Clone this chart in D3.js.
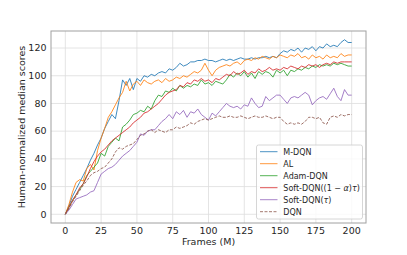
<!DOCTYPE html>
<html>
<head>
<meta charset="utf-8">
<script src="https://cdnjs.cloudflare.com/ajax/libs/d3/7.8.5/d3.min.js"></script>
<style>
  html, body { margin: 0; padding: 0; background: #fff; }
  svg text { font-family: "DejaVu Sans", sans-serif; fill: #262626; }
</style>
</head>
<body>
<svg id="chart" width="407" height="255"></svg>
<script>
// frames (M), one sample every 2.5M
var frames = d3.range(0, 202.5, 2.5);

var mdqn = [0,6,13,18,23,28,33,39,44,50,55,62,67,72,69,82,97,93,98,90,98,96,100,99,101,100,102,103,102,105,104,106,109,107,108,110,110,111,111,112,111,111,110,111,112,111,112,111,112,113,112,112,113,112,113,113,114,113,114,113,116,118,117,119,118,120,117,120,119,121,118,121,120,123,121,122,121,124,126,124,124];
var al = [0,7,16,23,25,24,33,36,32,46,55,62,70,74,79,84,88,96,89,94,96,93,97,95,94,96,97,95,98,96,97,99,98,100,99,101,103,102,104,109,104,100,104,106,107,108,107,109,110,108,111,112,111,113,112,114,113,112,114,113,115,114,113,115,114,116,113,114,112,115,113,114,112,115,113,114,113,116,114,115,115];
var adam = [0,5,10,14,18,22,28,31,34,37,44,42,49,52,55,53,63,65,68,72,73,75,74,78,76,82,86,85,89,88,91,89,93,91,93,92,94,93,97,94,95,93,96,95,94,97,101,99,102,100,103,99,102,98,103,101,103,102,99,104,102,104,100,104,103,105,104,106,105,107,106,108,107,108,107,109,108,109,108,107,107];
var softA = [0,5,10,14,19,22,27,33,38,42,45,47,50,53,55,57,59,61,63,66,68,70,73,74,76,78,80,83,86,88,89,90,93,92,95,94,97,96,98,96,97,95,98,97,99,101,100,103,101,102,104,101,103,102,105,103,104,106,104,105,104,106,105,107,106,105,107,106,108,107,108,106,108,109,108,110,109,110,110,110,110];
var softT = [0,3,7,11,12,13,14,16,17,23,29,31,33,34,36,39,42,44,46,49,52,58,57,60,61,61,64,67,69,72,69,74,72,75,70,74,73,76,72,70,68,73,71,74,77,80,78,77,78,76,79,78,84,80,77,78,85,82,84,86,86,83,80,84,85,84,86,88,86,79,82,84,85,83,87,91,85,82,90,86,86];
var dqn = [0,4,9,13,17,21,24,28,30,31,33,34,37,40,45,48,47,49,50,51,54,57,58,60,61,59,61,60,59,61,61,63,62,63,64,66,65,67,68,69,68,69,70,71,70,70,71,70,70,71,70,69,70,71,70,70,71,70,69,70,70,67,65,66,65,66,65,67,70,70,69,70,66,65,70,71,70,72,71,72,72];

var names = ["M-DQN", "AL", "Adam-DQN", "Soft-DQN((1 \u2212 \u03b1)\u03c4)", "Soft-DQN(\u03c4)", "DQN"];
var colors = ["#1f77b4", "#ff7f0e", "#2ca02c", "#d62728", "#9467bd", "#8c564b"];
var series = [mdqn, al, adam, softA, softT, dqn];
var xTicks = [0, 25, 50, 75, 100, 125, 150, 175, 200];
var yTicks = [0, 20, 40, 60, 80, 100, 120];

(function() {
  var svg = d3.select("#chart");
  var pLeft = 51, pRight = 366, pTop = 31, pBottom = 223;

  var x = d3.scaleLinear().domain([-10, 210]).range([pLeft, pRight]);
  var y = d3.scaleLinear().domain([-6.3, 132.3]).range([pBottom, pTop]);

  // grid
  svg.append("g").selectAll("line").data(xTicks).enter().append("line")
    .attr("x1", d => x(d)).attr("x2", d => x(d)).attr("y1", pTop).attr("y2", pBottom)
    .attr("stroke", "#dddddd").attr("stroke-width", 0.8);
  svg.append("g").selectAll("line").data(yTicks).enter().append("line")
    .attr("x1", pLeft).attr("x2", pRight).attr("y1", d => y(d)).attr("y2", d => y(d))
    .attr("stroke", "#dddddd").attr("stroke-width", 0.8);

  // lines
  var line = d3.line().x((d, i) => x(frames[i])).y(d => y(d));
  series.forEach(function(s, k) {
    svg.append("path").datum(s)
      .attr("d", line)
      .attr("fill", "none")
      .attr("stroke", colors[k])
      .attr("stroke-opacity", 0.85)
      .attr("stroke-width", 1)
      .attr("stroke-dasharray", k == 5 ? "3,1.5" : null);
  });

  // frame
  svg.append("rect").attr("x", pLeft).attr("y", pTop)
    .attr("width", pRight - pLeft).attr("height", pBottom - pTop)
    .attr("fill", "none").attr("stroke", "#a0a0a0").attr("stroke-width", 1);

  // tick labels
  svg.append("g").selectAll("text").data(xTicks).enter().append("text")
    .attr("x", d => x(d)).attr("y", 234)
    .attr("text-anchor", "middle").attr("font-size", 9.5)
    .text(d => d);
  svg.append("g").selectAll("text").data(yTicks).enter().append("text")
    .attr("x", 46.5).attr("y", d => y(d)).attr("dy", "0.35em")
    .attr("text-anchor", "end").attr("font-size", 9.5)
    .text(d => d);

  // axis labels
  svg.append("text").attr("x", (pLeft + pRight) / 2).attr("y", 245)
    .attr("text-anchor", "middle").attr("font-size", 9.5).text("Frames (M)");
  svg.append("text").attr("transform", "translate(25," + ((pTop + pBottom) / 2) + ") rotate(-90)")
    .attr("text-anchor", "middle").attr("font-size", 9.5).text("Human-normalized median scores");

  // legend
  var lg = svg.append("g");
  lg.append("rect").attr("x", 256.5).attr("y", 145).attr("width", 106).attr("height", 74)
    .attr("rx", 2).attr("fill", "#fff").attr("fill-opacity", 0.8)
    .attr("stroke", "#cccccc").attr("stroke-width", 0.8);
  names.forEach(function(n, k) {
    var yy = 151.7 + k * 12;
    lg.append("line").attr("x1", 260).attr("x2", 277.5).attr("y1", yy).attr("y2", yy)
      .attr("stroke", colors[k]).attr("stroke-opacity", 0.8).attr("stroke-width", 1)
      .attr("stroke-dasharray", k == 5 ? "3,1.5" : null);
    var t = lg.append("text").attr("x", 283.3).attr("y", yy).attr("dy", "0.35em").attr("font-size", 8);
    if (k == 3) {
      t.append("tspan").text("Soft-DQN((1 \u2212 ");
      t.append("tspan").attr("font-style", "italic").text("\u03b1");
      t.append("tspan").text(")");
      t.append("tspan").attr("font-style", "italic").text("\u03c4");
      t.append("tspan").text(")");
    } else if (k == 4) {
      t.append("tspan").text("Soft-DQN(");
      t.append("tspan").attr("font-style", "italic").text("\u03c4");
      t.append("tspan").text(")");
    } else {
      t.text(n);
    }
  });
})();
</script>
</body>
</html>
